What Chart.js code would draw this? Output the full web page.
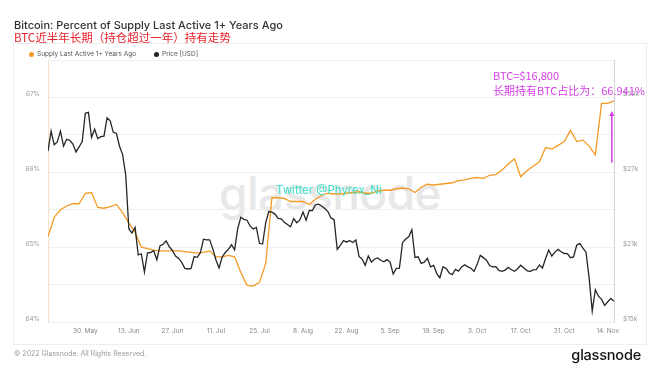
<!DOCTYPE html>
<html><head><meta charset="utf-8">
<script src="https://cdn.jsdelivr.net/npm/chart.js@4.4.0/dist/chart.umd.min.js"></script>
<style>
body{margin:0;background:#fff;}
#wrap{position:relative;width:660px;height:372px;overflow:hidden;background:#fff;font-family:Inter,"Noto Sans",sans-serif;}
#card{position:absolute;left:13px;top:43px;width:634px;height:302px;border:1px solid #eeeeee;box-sizing:border-box;}
canvas{position:absolute;left:0;top:0;}
.t{position:absolute;white-space:nowrap;}
.dot{position:absolute;width:5px;height:5px;border-radius:50%;}
</style></head>
<body>
<div id="wrap">
  <div id="card"></div>
  <div class="t" style="left:0;width:660px;text-align:center;top:170px;font-size:46px;line-height:46px;color:#e8e8e8;font-weight:500;letter-spacing:-0.5px;">glassnode</div>
  <canvas id="c" width="660" height="372"></canvas>
  <div class="t" style="left:14px;top:18px;font-size:11px;line-height:14px;color:#333;font-weight:500;">Bitcoin: Percent of Supply Last Active 1+ Years Ago</div>
  <div class="t" style="left:14px;top:30px;font-size:11.5px;line-height:14px;color:#e8212b;font-family:'Noto Sans CJK SC';">BTC近半年长期（持仓超过一年）持有走势</div>
  <div class="dot" style="left:29px;top:52px;background:#f59a23;"></div>
  <div class="t" style="left:37px;top:50px;font-size:6.5px;line-height:9px;color:#555;">Supply Last Active 1+ Years Ago</div>
  <div class="dot" style="left:154px;top:52px;background:#222;"></div>
  <div class="t" style="left:162px;top:50px;font-size:6.5px;line-height:9px;color:#555;">Price [USD]</div>
  <div class="t" style="left:276px;top:183px;font-size:11.5px;line-height:15px;color:#3fe0c8;">Twitter @Phyrex_Ni</div>
  <div class="t" style="left:493px;top:68px;font-size:11px;line-height:15px;color:#d43de6;font-family:'Noto Sans CJK SC';">BTC=$16,800</div>
  <div class="t" style="left:493px;top:83px;font-size:11px;line-height:15px;color:#d43de6;font-family:'Noto Sans CJK SC';">长期持有BTC占比为：66.941%</div>
  <div class="t" style="left:14px;top:349px;font-size:7px;line-height:10px;color:#999;">© 2022 Glassnode. All Rights Reserved.</div>
  <div class="t" style="right:19px;top:346px;font-size:14.5px;line-height:18px;color:#111;font-weight:500;letter-spacing:-0.2px;">glassnode</div>
</div>
<script>
// x values are days since 18 May 2022
const xTickDays = [12,26,40,54,68,82,96,110,124,138,152,166,180];
const xTickLabels = ['30. May','13. Jun','27. Jun','11. Jul','25. Jul','8. Aug','22. Aug','5. Sep','19. Sep','3. Oct','17. Oct','31. Oct','14. Nov'];
const lastDay = 182;

// daily BTC price (USD), 18 May - 16 Nov 2022
const priceUsd = [
  28700,30300,29200,29430,30300,29100,29650,29560,29270,28630,29030,29470,31730,31800,
  29800,30450,29700,29860,29900,31370,31130,30200,30110,29090,28420,26760,22480,22130,22580,20380,20470,19010,20550,20570,20720,19990,21100,21230,21500,21030,20740,20280,20100,19780,
  19300,19250,19300,20240,20180,20560,21640,21590,21590,20860,19970,19330,20210,20570,20830,21190,20780,22490,23390,23230,23160,22680,22450,22580,21310,21250,22950,23850,23800,23650,23300,
  23270,22990,22820,22630,23290,22960,23180,23810,23160,23950,23940,24400,24440,24300,24100,23850,23340,23210,20830,21140,21530,21400,21530,21370,21570,20260,20040,19550,20290,19800,20050,
  20130,19950,19830,20000,19800,18840,19290,19320,21360,21650,21830,22400,20170,20230,19700,19800,20110,19420,19540,18880,18550,19410,19300,18930,18800,19220,19080,19410,19590,19420,
  19310,19050,19620,20340,20160,19960,19530,19420,19440,19130,19060,19160,19380,19190,19070,19270,19550,19330,19120,19040,19170,19200,19570,19330,20090,20770,20290,20600,20820,20630,20490,
  20480,20150,20210,21150,21300,20920,20600,18540,15880,17590,17070,16810,16330,16620,16890,16660
];

// supply last active 1+ years ago (%), every 2 days from 18 May
const supplyStepDays = 2;
const supplyPct = [
  65.14,65.40,65.50,65.55,65.58,65.58,65.72,65.73,65.53,65.52,65.54,65.57,65.46,65.32,65.20,65.00,
  64.98,64.96,64.95,64.95,64.95,64.95,64.94,64.93,64.92,64.93,64.95,64.87,64.87,64.89,64.87,64.66,
  64.49,64.48,64.53,64.78,65.66,65.66,65.65,65.61,65.61,65.61,65.57,65.64,65.69,65.72,65.71,65.71,
  65.72,65.73,65.74,65.72,65.72,65.75,65.76,65.76,65.78,65.79,65.78,65.73,65.80,65.84,65.83,65.84,
  65.85,65.86,65.89,65.90,65.92,65.93,65.92,65.96,65.97,66.03,66.11,66.18,65.94,66.02,66.08,66.14,
  66.33,66.31,66.36,66.41,66.56,66.41,66.43,66.35,66.23,66.92,66.92,66.95
];

// annotation arrow (day, % from/to)
const arrowDay = 181.3, arrowFromPct = 66.13, arrowToPct = 66.82;
const annotColor = '#d43de6';

const arrowPlugin = {
  id: 'arrow',
  afterDatasetsDraw(chart) {
    const {ctx, scales} = chart;
    const px = scales.x.getPixelForValue(arrowDay);
    const y1 = scales.yL.getPixelForValue(arrowFromPct);
    const y2 = scales.yL.getPixelForValue(arrowToPct);
    ctx.save();
    ctx.strokeStyle = annotColor; ctx.fillStyle = annotColor; ctx.lineWidth = 1.5;
    ctx.beginPath(); ctx.moveTo(px, y1); ctx.lineTo(px, y2 + 4); ctx.stroke();
    ctx.beginPath(); ctx.moveTo(px, y2); ctx.lineTo(px - 2.5, y2 + 5); ctx.lineTo(px + 2.5, y2 + 5); ctx.closePath(); ctx.fill();
    ctx.restore();
  }
};

const tickFont = {family: 'Inter', size: 6.5};
new Chart(document.getElementById('c'), {
  type: 'line',
  data: {
    datasets: [
      {label: 'Price [USD]', data: priceUsd.map((v, i) => ({x: i, y: v})), yAxisID: 'yR',
       borderColor: '#262626', borderWidth: 1.3, pointRadius: 0, tension: 0, order: 1},
      {label: 'Supply Last Active 1+ Years Ago', data: supplyPct.map((v, i) => ({x: i * supplyStepDays, y: v})), yAxisID: 'yL',
       borderColor: '#f59a23', borderWidth: 1.3, pointRadius: 0, tension: 0, order: 2}
    ]
  },
  options: {
    responsive: false, devicePixelRatio: 1, animation: false,
    layout: {padding: {left: 0, right: 0, top: 60, bottom: 30}},
    plugins: {legend: {display: false}, tooltip: {enabled: false}},
    scales: {
      x: {type: 'linear', min: 0, max: lastDay,
        grid: {display: false, drawTicks: false}, border: {display: false},
        afterBuildTicks: s => { s.ticks = xTickDays.map(v => ({value: v})); },
        afterFit: s => { s.height = 20; },
        ticks: {autoSkip: false, maxRotation: 0, padding: 5, color: '#888', font: tickFont,
          callback: (v, i) => xTickLabels[i]}},
      yL: {position: 'left', min: 64, max: 67.5,
        ticks: {stepSize: 0.5, padding: 8, labelOffset: -3, color: '#999', font: tickFont,
          callback: v => Number.isInteger(v) ? v + '%' : ''},
        grid: {color: '#efefef', drawTicks: false}, border: {color: '#f3e4c9'},
        afterFit: s => { s.width = 48; }},
      yR: {position: 'right', min: 15000, max: 36000,
        ticks: {stepSize: 3000, padding: 9, labelOffset: -3, color: '#999', font: tickFont,
          callback: v => ((v - 15000) % 6000 === 0) ? '$' + (v / 1000) + 'k' : ''},
        grid: {display: false, drawTicks: false}, border: {color: '#d4d4d4'},
        afterFit: s => { s.width = 46; }}
    }
  },
  plugins: [arrowPlugin]
});
</script>
</body></html>
